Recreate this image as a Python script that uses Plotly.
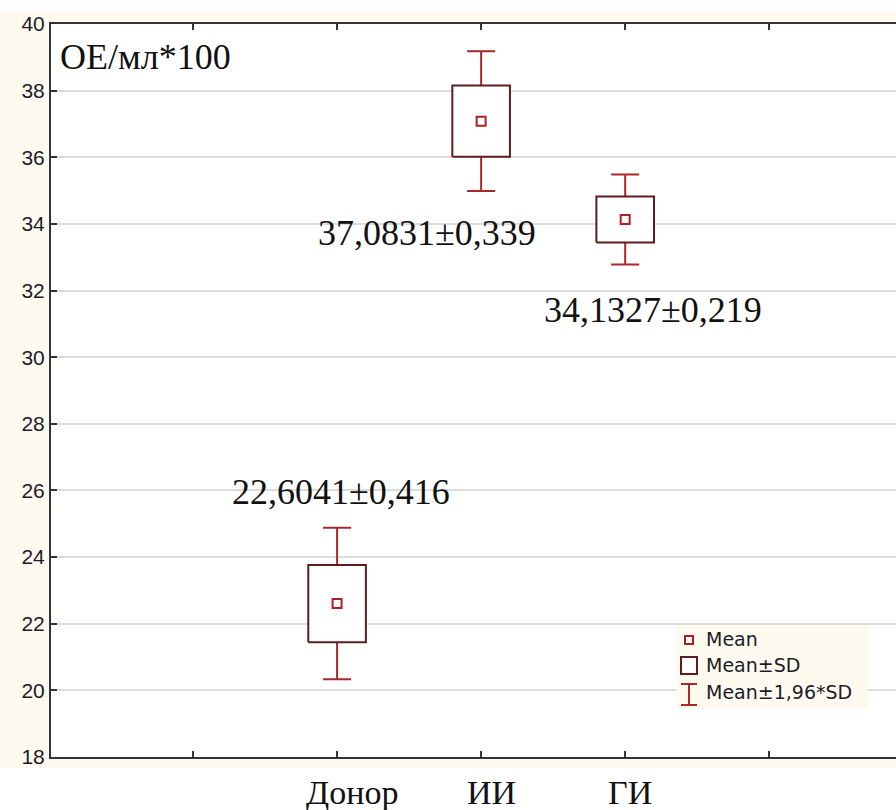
import plotly.graph_objects as go

# ---- data ----
categories = ["Донор", "ИИ", "ГИ"]
means = [22.6041, 37.0831, 34.1327]
sds = [1.16, 1.07, 0.69]          # box half-height (Mean±SD)
ses = [0.416, 0.339, 0.219]       # value shown in labels
y_ticks = [18, 20, 22, 24, 26, 28, 30, 32, 34, 36, 38, 40]

# ---- styles ----
BOX_COLOR = "#5e1c1c"
WHISK_COLOR = "#a8282c"
MEAN_COLOR = "#b01e22"
CREAM = "#fffaf0"
TXT = "#1c1c28"
SERIF = "Liberation Serif, Times New Roman, serif"
SANS = "Liberation Sans, Arial, sans-serif"
LEG_FONT = "DejaVu Sans, Verdana, sans-serif"

pos = list(range(1, len(categories) + 1))
half_w = 0.2

fig = go.Figure()

# whiskers (Mean ± 1.96*SD)
fig.add_trace(go.Scatter(
    x=pos, y=means, mode="markers",
    marker=dict(size=1, color="rgba(0,0,0,0)"),
    error_y=dict(type="data", array=[1.96 * s for s in sds], color=WHISK_COLOR,
                 thickness=2, width=14),
    showlegend=False, hoverinfo="skip"))

# boxes (Mean ± SD)
for p, m, s in zip(pos, means, sds):
    fig.add_trace(go.Scatter(
        x=[p - half_w, p + half_w, p + half_w, p - half_w, p - half_w],
        y=[m - s, m - s, m + s, m + s, m - s],
        mode="lines", fill="toself", fillcolor="white",
        line=dict(color=BOX_COLOR, width=2),
        showlegend=False, hoverinfo="skip"))

# mean points
fig.add_trace(go.Scatter(
    x=pos, y=means, mode="markers",
    marker=dict(symbol="square", size=9, color="white",
                line=dict(color=MEAN_COLOR, width=2)),
    showlegend=False, hoverinfo="skip"))

# value labels
label_dx = [0.03, -0.375, 0.19]
label_y = [25.96, 33.73, 31.42]
for p, m, se, dx, ly in zip(pos, means, ses, label_dx, label_y):
    txt = f"{m:.4f}±{se:.3f}".replace(".", ",")
    fig.add_annotation(x=p + dx, y=ly, text=txt, showarrow=False,
                       xanchor="center", yanchor="middle",
                       font=dict(family=SERIF, size=36, color="#111111"))

# category labels (below the axis)
cat_shift = [15, 10, 5]
for p, c, sh in zip(pos, categories, cat_shift):
    fig.add_annotation(x=p, xref="x", yref="paper", y=-35 / 733.0, text=c,
                       showarrow=False, xanchor="center", yanchor="middle", xshift=sh,
                       font=dict(family=SERIF, size=34, color="#111111"))

# unit label
fig.add_annotation(xref="paper", yref="paper", x=0.008, y=0.955, text="ОЕ/мл*100",
                   showarrow=False, xanchor="left", yanchor="middle",
                   font=dict(family=SERIF, size=36, color="#111111"))

# cream background strips around plot area
H = 733.0
W = 845.0
shapes = [
    dict(type="rect", xref="paper", yref="paper", x0=-51 / W, x1=1.01,
         y0=1, y1=1 + 12 / H, fillcolor=CREAM, line=dict(width=0), layer="below"),
    dict(type="rect", xref="paper", yref="paper", x0=-51 / W, x1=0,
         y0=-11 / H, y1=1 + 12 / H, fillcolor=CREAM, line=dict(width=0), layer="below"),
    dict(type="rect", xref="paper", yref="paper", x0=-51 / W, x1=1.01,
         y0=-11 / H, y1=0, fillcolor=CREAM, line=dict(width=0), layer="below"),
]


def px(xp):
    return (xp - 51) / W


def py(yp):
    return 1 - (yp - 24) / H


# custom legend
shapes.append(dict(type="rect", xref="paper", yref="paper", x0=px(676), x1=px(868),
                   y0=py(709), y1=py(625), fillcolor=CREAM, line=dict(width=0), layer="above"))
# Mean icon
shapes.append(dict(type="rect", xref="paper", yref="paper",
                   x0=px(685), x1=px(693), y0=py(644), y1=py(636),
                   line=dict(color=MEAN_COLOR, width=2), fillcolor="white", layer="above"))
# Mean±SD icon
shapes.append(dict(type="rect", xref="paper", yref="paper",
                   x0=px(681), x1=px(697), y0=py(674), y1=py(657),
                   line=dict(color=BOX_COLOR, width=2), fillcolor="white", layer="above"))
# whisker icon
for seg in [((681, 684), (697, 684)), ((689, 684), (689, 705)), ((681, 705), (697, 705))]:
    (a, b), (c, d) = seg
    shapes.append(dict(type="line", xref="paper", yref="paper",
                       x0=px(a), y0=py(b), x1=px(c), y1=py(d),
                       line=dict(color=WHISK_COLOR, width=2), layer="above"))

for t, yy in [("Mean", 639), ("Mean±SD", 665), ("Mean±1,96*SD", 692)]:
    fig.add_annotation(xref="paper", yref="paper", x=px(704), y=py(yy), text=t,
                       showarrow=False, xanchor="left", yanchor="middle",
                       font=dict(family=LEG_FONT, size=19, color=TXT))

fig.update_layout(
    width=896, height=810,
    margin=dict(l=51, r=0, t=24, b=53, autoexpand=False),
    paper_bgcolor="white", plot_bgcolor="white",
    showlegend=False, shapes=shapes,
)
fig.update_xaxes(
    range=[-0.986, 4.88], automargin=False,
    tickvals=[0] + pos + [len(pos) + 1], ticktext=["", "", "", "", ""],
    ticks="inside", ticklen=6, tickwidth=1.5, tickcolor="#333",
    showline=True, linecolor="#333", linewidth=2, mirror="ticks",
    showgrid=False, zeroline=False,
)
fig.update_yaxes(
    range=[18, 40], tickvals=y_ticks, automargin=False,
    ticks="inside", ticklen=6, tickwidth=1.5, tickcolor="#333",
    showline=True, linecolor="#333", linewidth=2,
    showgrid=True, gridcolor="#dcdcdc", gridwidth=1.5, zeroline=False,
    tickfont=dict(family=SANS, size=21, color=TXT),
)

fig.write_html("out.html", config={"displayModeBar": False},
               post_script="document.body.style.margin='0';document.body.style.overflow='hidden';")
